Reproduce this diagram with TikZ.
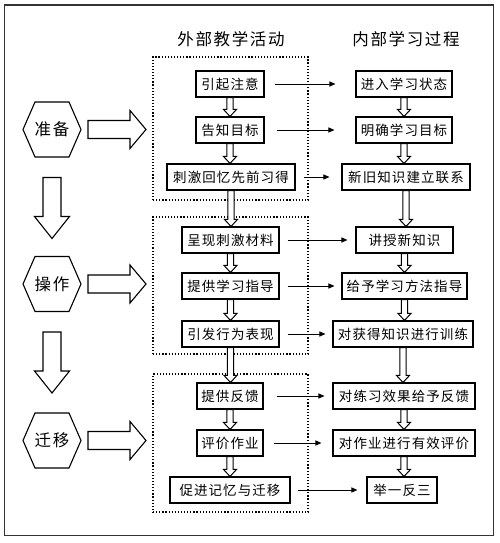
\documentclass[tikz,border=0pt]{standalone}
\usepackage{fontspec}
\newfontfamily\cjkbox[LetterSpace=8]{Noto Sans CJK SC}
\newfontfamily\cjktitle[LetterSpace=10]{Noto Sans CJK SC}
\usetikzlibrary{arrows.meta,calc}
\tikzset{
  box/.style={draw, line width=1.1pt, minimum height=26pt, inner sep=0pt, font=\cjkbox\fontsize{13.5}{14}\selectfont},
  titletext/.style={font=\cjktitle\fontsize{16.5}{18}\selectfont},
  dotbox/.style={draw, line width=1.2pt, dash pattern=on 1.2pt off 1.9pt, inner sep=0pt},
  link/.style={-{Triangle[length=6pt,width=5pt]}, line width=1pt},
  hollow/.style={draw, line width=1pt, fill=white, line join=miter},
  block/.style={draw, line width=1.1pt, fill=white, line join=miter},
  frame/.style={draw, line width=1.6pt, black!80}
}
\newcommand\hdown[2]{\path[hollow] let \p1=(#1.south), \p2=(#2.north) in
  (\x1-3.2pt,\y1) -- (\x1+3.2pt,\y1) -- (\x1+3.2pt,\y2+7pt) -- (\x1+6.5pt,\y2+7pt)
  -- (\x1,\y2) -- (\x1-6.5pt,\y2+7pt) -- (\x1-3.2pt,\y2+7pt) -- cycle;}
\newcommand\hexframe[1]{\path[block, shift={(#1.center)}] (-29,0) -- (-17,-27.5) -- (17,-27.5) -- (29,0) -- (17,27.5) -- (-17,27.5) -- cycle;}
\newcommand\bigright[1]{\path[block, shift={(#1.center)}] (36,-9) -- (78,-9) -- (78,-19) -- (94,0) -- (78,19) -- (78,9) -- (36,9) -- cycle;}
\newcommand\bigdown[1]{\path[block, shift={(#1.center)}] (-9,48) -- (9,48) -- (9,87) -- (17.5,87) -- (0,109) -- (-17.5,87) -- (-9,87) -- cycle;}
\begin{document}
\begin{tikzpicture}[x=1pt,y=-1pt]
\useasboundingbox (0,0) rectangle (500,543);
\path[frame] (4.5,5) rectangle (493.5,535.5);

% titles
\node[titletext] (t1) at (231,39) {外部教学活动};
\node[titletext] (t2) at (406,39) {内部学习过程};

% dotted groups
\node[dotbox, minimum width=155pt, minimum height=143pt] (g1) at (230.5,128.5) {};
\node[dotbox, minimum width=155pt, minimum height=137pt] (g2) at (230.5,285.5) {};
\node[dotbox, minimum width=155pt, minimum height=138pt] (g3) at (230.5,443) {};

% hexagons
\node[titletext] (prep) at (52,129.5) {准备};
\node[titletext] (oper) at (52,284) {操作};
\node[titletext] (trans) at (52,440.5) {迁移};
\hexframe{prep}
\hexframe{oper}
\hexframe{trans}
\node[titletext] at (prep) {准备};
\node[titletext] at (oper) {操作};
\node[titletext] at (trans) {迁移};
\bigright{prep}
\bigright{oper}
\bigright{trans}
\bigdown{prep}
\bigdown{oper}

% left column
\node[box, minimum width=68pt]  (l1) at (230,84)  {引起注意};
\node[box, minimum width=68pt]  (l2) at (230,130) {告知目标};
\node[box, minimum width=128pt] (l3) at (231,177) {刺激回忆先前习得};
\node[box, minimum width=97pt]  (l4) at (230.5,240) {呈现刺激材料};
\node[box, minimum width=97pt]  (l5) at (230.5,286) {提供学习指导};
\node[box, minimum width=97pt]  (l6) at (230.5,334) {引发行为表现};
\node[box, minimum width=66pt]  (l7) at (230,396) {提供反馈};
\node[box, minimum width=66pt]  (l8) at (230,443) {评价作业};
\node[box, minimum width=120pt] (l9) at (230,490) {促进记忆与迁移};

% right column
\node[box, minimum width=96pt]  (r1) at (404,84)  {进入学习状态};
\node[box, minimum width=96pt]  (r2) at (404,130) {明确学习目标};
\node[box, minimum width=128pt] (r3) at (406,177) {新旧知识建立联系};
\node[box, minimum width=97pt]  (r4) at (404.5,240) {讲授新知识};
\node[box, minimum width=125pt] (r5) at (404.5,286) {给予学习方法指导};
\node[box, minimum width=140pt] (r6) at (403,334) {对获得知识进行训练};
\node[box, minimum width=142pt] (r7) at (404,396) {对练习效果给予反馈};
\node[box, minimum width=142pt] (r8) at (404,443) {对作业进行有效评价};
\node[box, minimum width=70pt]  (r9) at (402,490) {举一反三};

% hollow arrows
\foreach \a/\b in {1/2,2/3,3/4,4/5,5/6,6/7,7/8,8/9}{
  \hdown{l\a}{l\b}
  \hdown{r\a}{r\b}
}

% links
\draw[link, shorten <=10pt, shorten >=20pt] (l1) -- (r1);
\draw[link, shorten <=12pt, shorten >=21pt] (l2) -- (r2);
\draw[link, shorten <=8pt, shorten >=12pt] (l3) -- (r3);
\draw[link, shorten <=8pt, shorten >=8pt] (l4) -- (r4);
\draw[link, shorten <=8pt, shorten >=7pt] (l5) -- (r5);
\draw[link, shorten <=8pt, shorten >=7pt] (l6) -- (r6);
\draw[link, shorten <=13pt, shorten >=8pt] (l7) -- (r7);
\draw[link, shorten <=10pt, shorten >=11pt] (l8) -- (r8);
\draw[link, shorten <=7pt, shorten >=9pt] (l9) -- (r9);
\end{tikzpicture}
\end{document}
